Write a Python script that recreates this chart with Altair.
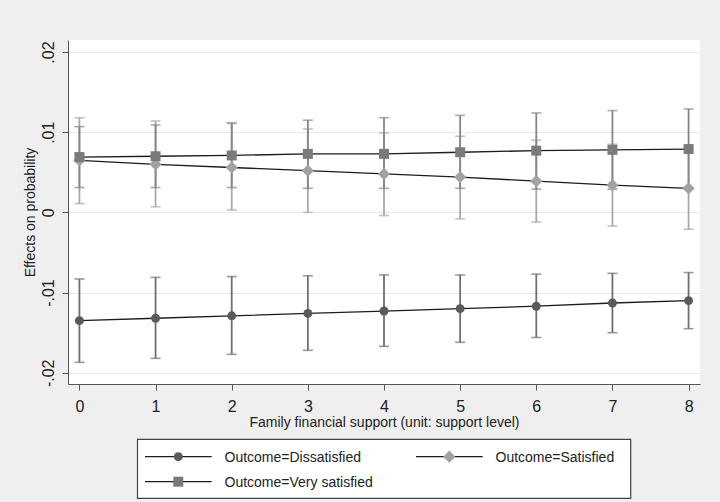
import altair as alt
import pandas as pd

# ---- data ----
support = [0, 1, 2, 3, 4, 5, 6, 7, 8]

dis_mean = [-0.0135, -0.0132, -0.0129, -0.0126, -0.0123, -0.0120, -0.0117, -0.0113, -0.0110]
dis_lo = [-0.0187, -0.0182, -0.0177, -0.0172, -0.0167, -0.0162, -0.0156, -0.0150, -0.0145]
dis_hi = [-0.0083, -0.0081, -0.0080, -0.0079, -0.0078, -0.0078, -0.0077, -0.0076, -0.0075]

sat_mean = [0.0065, 0.0060, 0.0056, 0.0052, 0.0048, 0.0044, 0.0039, 0.0034, 0.0030]
sat_lo = [0.0011, 0.0007, 0.0003, 0.0000, -0.0004, -0.0008, -0.0012, -0.0017, -0.0021]
sat_hi = [0.0118, 0.0114, 0.0112, 0.0104, 0.0099, 0.0095, 0.0090, 0.0085, 0.0081]

vs_mean = [0.0069, 0.0070, 0.0071, 0.0073, 0.0073, 0.0075, 0.0077, 0.0078, 0.0079]
vs_lo = [0.0031, 0.0031, 0.0031, 0.0030, 0.0030, 0.0030, 0.0029, 0.0029, 0.0029]
vs_hi = [0.0107, 0.0109, 0.0111, 0.0115, 0.0118, 0.0121, 0.0124, 0.0127, 0.0129]

y_ticks = [-0.02, -0.01, 0.0, 0.01, 0.02]
x_ticks = support

labels = ["Outcome=Dissatisfied", "Outcome=Satisfied", "Outcome=Very satisfied"]
x_title = "Family financial support (unit: support level)"
y_title = "Effects on probability"

FONT = "Liberation Sans"

def frame(mean, lo, hi):
    return pd.DataFrame({"x": support, "m": mean, "lo": lo, "hi": hi})

d_dis = frame(dis_mean, dis_lo, dis_hi)
d_sat = frame(sat_mean, sat_lo, sat_hi)
d_vs = frame(vs_mean, vs_lo, vs_hi)

xscale = alt.Scale(domain=[-0.15, 8.15], nice=False, zero=False)
yscale = alt.Scale(domain=[-0.0214, 0.0215], nice=False, zero=False)

xaxis = alt.Axis(
    values=x_ticks, format="d",
    grid=False, domainColor="#555555", tickColor="#555555", tickSize=6,
    labelFont=FONT, labelFontSize=16, labelColor="#222222", labelPadding=8,
    titleFont=FONT, titleFontSize=14, titleFontWeight="normal", titleColor="#222222",
    titleX=316, titleY=42.7, titleBaseline="alphabetic", titleAlign="center",
)
yaxis = alt.Axis(
    values=y_ticks,
    labelExpr="(datum.value < -0.000001 ? '-' : '') + replace(format(abs(datum.value), '.2~f'), '0.', '.')",
    grid=True, gridColor="#e9e9e9", gridWidth=1.2,
    domainColor="#555555", tickColor="#555555", tickSize=6,
    labelFont=FONT, labelFontSize=16, labelColor="#222222", labelAngle=270,
    labelAlign="center", labelBaseline="bottom", labelPadding=6,
    titleFont=FONT, titleFontSize=14, titleFontWeight="normal", titleColor="#222222",
    titleAngle=270, titleX=-31, titleY=172, titleAlign="center", titleBaseline="bottom",
)

X = lambda: alt.X("x:Q", scale=xscale, axis=xaxis, title=x_title)
Y = lambda f: alt.Y(f, scale=yscale, axis=yaxis, title=y_title)

def ebar(df, color):
    return alt.Chart(df).mark_errorbar(
        orient="vertical", color=color, thickness=1.8,
        ticks={"size": 10, "thickness": 1.6, "color": color},
    ).encode(x=X(), y=Y("lo:Q"), y2="hi:Q")

def line(df):
    return alt.Chart(df).mark_line(color="#1c1c1c", strokeWidth=1.3).encode(x=X(), y=Y("m:Q"))

def pts(df, shape, color, size):
    return alt.Chart(df).mark_point(shape=shape, filled=True, color=color, size=size, opacity=1).encode(
        x=X(), y=Y("m:Q")
    )

C_DIS, C_SAT, C_VS = "#5a5a5a", "#a2a2a2", "#7b7b7b"
E_DIS, E_SAT, E_VS = "#6f6f6f", "#a8a8a8", "#858585"

dummy = pd.DataFrame({"k": [0]})

legend_box = alt.Chart(dummy).mark_rect(fill="white", stroke="#444444", strokeWidth=1.2).encode(
    x=alt.value(69.5), x2=alt.value(562.7), y=alt.value(399.3), y2=alt.value(458.3)
)

def leg_item(xl, yl, shape, color, size, text):
    rule = alt.Chart(dummy).mark_rule(color="#1c1c1c", strokeWidth=1.3).encode(
        x=alt.value(xl), x2=alt.value(xl + 66.7), y=alt.value(yl)
    )
    mk = alt.Chart(dummy).mark_point(shape=shape, filled=True, color=color, size=size, opacity=1).encode(
        x=alt.value(xl + 33.3), y=alt.value(yl)
    )
    tx = alt.Chart(dummy).mark_text(
        text=text, font=FONT, fontSize=14, color="#222222", align="left", baseline="middle"
    ).encode(x=alt.value(xl + 79.5), y=alt.value(yl + 1))
    return [rule, mk, tx]

layers = [
    ebar(d_dis, E_DIS),
    ebar(d_sat, E_SAT),
    ebar(d_vs, E_VS),
    line(d_dis), line(d_sat), line(d_vs),
    pts(d_dis, "circle", C_DIS, 80),
    pts(d_sat, "diamond", C_SAT, 150),
    pts(d_vs, "square", C_VS, 100),
    legend_box,
]
layers += leg_item(77, 416.7, "circle", C_DIS, 80, labels[0])
layers += leg_item(348, 416.7, "diamond", C_SAT, 150, labels[1])
layers += leg_item(77, 441.7, "square", C_VS, 100, labels[2])

chart = alt.layer(*layers).properties(
    width=632, height=344,
    background="#efefef",
    padding={"left": 68, "top": 40, "right": 20, "bottom": 118},
    autosize=alt.AutoSizeParams(type="none"),
).configure_view(fill="white", stroke=None)

chart.save("out.html", embed_options={"renderer": "svg", "actions": False})
